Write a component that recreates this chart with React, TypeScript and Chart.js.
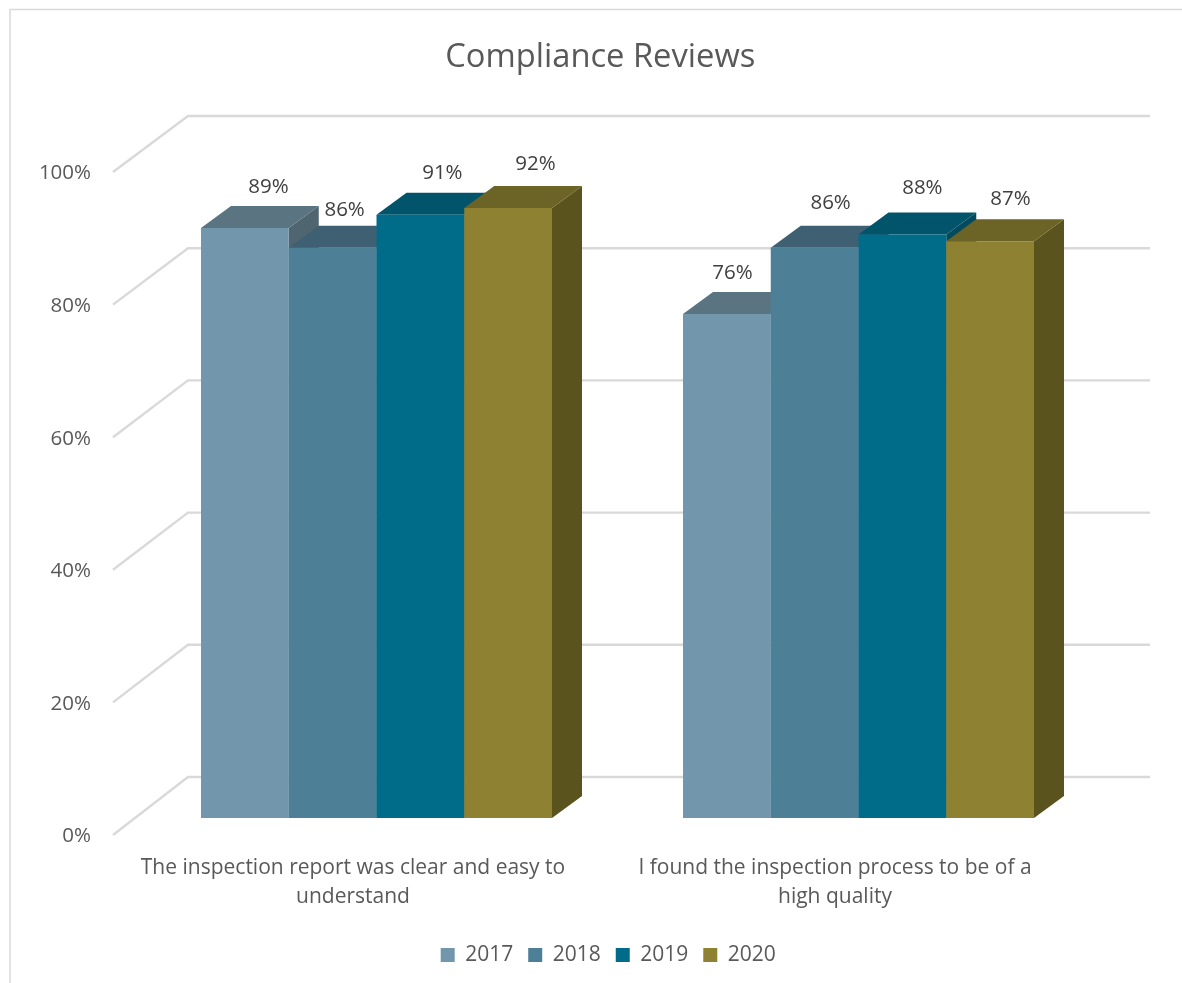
import React, { useEffect, useRef } from "react";
import { Chart, registerables } from "chart.js";

Chart.register(...registerables);

const chartTitle = "Compliance Reviews";
const categories = [
  ["The inspection report was clear and easy to", "understand"],
  ["I found the inspection process to be of a", "high quality"],
];
const yearLabels = ["2017", "2018", "2019", "2020"];
const values2017 = [89, 76];
const values2018 = [86, 86];
const values2019 = [91, 88];
const values2020 = [92, 87];
const seriesValues = [values2017, values2018, values2019, values2020];

const frontColors = ["#7296AC", "#4D7F96", "#006C89", "#8E8232"];
const topColors = ["#5A7482", "#3F6072", "#02546A", "#6C6326"];
const sideColors = ["#4F6670", "#365462", "#024A5E", "#5B531E"];

const FONT = '"Open Sans", sans-serif';
const GRID = "#D9D9D9";
const DEPTH_X = 30;
const DEPTH_Y = 22;
// Hand-placed data label nudges from bar top centre, per series then category.
const labelNudges = [
  [[23.6, -41], [5.6, -41]],
  [[12, -38], [16, -45]],
  [[22, -41.5], [20, -46]],
  [[27.4, -44], [20.4, -42]],
];

function quad(ctx: CanvasRenderingContext2D, pts: number[][], fill: string) {
  ctx.beginPath();
  ctx.moveTo(pts[0][0], pts[0][1]);
  for (let i = 1; i < pts.length; i++) ctx.lineTo(pts[i][0], pts[i][1]);
  ctx.closePath();
  ctx.fillStyle = fill;
  ctx.fill();
}

const box3dPlugin = {
  id: "box3d",
  beforeDraw(chart: any) {
    const ctx = chart.ctx;
    ctx.save();
    ctx.strokeStyle = GRID;
    ctx.lineWidth = 1.5;
    ctx.beginPath();
    ctx.moveTo(10, chart.height);
    ctx.lineTo(10, 9.5);
    ctx.lineTo(chart.width, 9.5);
    ctx.stroke();
    ctx.restore();
  },
  afterLayout(chart: any) {
    // Title and legend are centred on the picture, not on the plot area.
    chart.titleBlock.left += 33;
    chart.titleBlock.right += 33;
    chart.legend.left += 41;
    chart.legend.right += 41;
  },
  beforeDatasetsDraw(chart: any) {
    const ctx = chart.ctx as CanvasRenderingContext2D;
    const yScale = chart.scales.y;
    const bottom = yScale.bottom;
    ctx.save();
    // Floor-and-wall gridlines
    ctx.strokeStyle = GRID;
    ctx.lineWidth = 2.4;
    yScale.ticks.forEach((t: any) => {
      const y = yScale.getPixelForValue(t.value);
      const backY = y - 41 + (bottom - y) * 0.003;
      ctx.beginPath();
      ctx.moveTo(113, y + 17);
      ctx.lineTo(188, backY);
      ctx.lineTo(1150, backY);
      ctx.stroke();
    });
    // Bars, left to right, with the side and top faces behind each front
    seriesValues.forEach((_, si) => {
      const meta = chart.getDatasetMeta(si);
      meta.data.forEach((bar: any) => {
        const l = bar.x - bar.width / 2;
        const r = bar.x + bar.width / 2;
        quad(ctx, [[r, bar.y], [r + DEPTH_X, bar.y - DEPTH_Y], [r + DEPTH_X, bar.base - DEPTH_Y], [r, bar.base]], sideColors[si]);
        quad(ctx, [[l, bar.y], [l + DEPTH_X, bar.y - DEPTH_Y], [r + DEPTH_X, bar.y - DEPTH_Y], [r, bar.y]], topColors[si]);
        bar.draw(ctx);
      });
    });
    // Data labels
    ctx.font = `20.5px ${FONT}`;
    ctx.fillStyle = "#404040";
    ctx.textAlign = "center";
    ctx.textBaseline = "middle";
    seriesValues.forEach((vals, si) => {
      const meta = chart.getDatasetMeta(si);
      meta.data.forEach((bar: any, ci: number) => {
        const [dx, dy] = labelNudges[si][ci];
        ctx.fillText(`${vals[ci]}%`, bar.x + dx, bar.y + dy);
      });
    });
    ctx.restore();
    return false;
  },
};

export default function App() {
  const ref = useRef<HTMLCanvasElement>(null);
  useEffect(() => {
    if (!ref.current) return;
    const chart = new Chart(ref.current, {
      type: "bar",
      data: {
        labels: categories as any,
        datasets: yearLabels.map((label, i) => ({
          label,
          data: seriesValues[i],
          backgroundColor: frontColors[i],
          borderWidth: 0,
          categoryPercentage: 351 / 482,
          barPercentage: 1,
        })),
      },
      options: {
        responsive: false,
        animation: false,
        layout: { padding: { left: 35, right: 82.5, top: 0, bottom: 7.5 } },
        scales: {
          x: {
            grid: { display: false, drawTicks: false },
            border: { display: false },
            afterFit: (s: any) => { s.height = 111.5; },
            ticks: {
              color: "#595959",
              font: { family: FONT, size: 21, lineHeight: 1.38 },
              padding: 36,
              labelOffset: -23.5,
              maxRotation: 0,
              minRotation: 0,
              autoSkip: false,
            },
          },
          y: {
            min: 0,
            max: 100,
            grid: { display: false, drawTicks: false },
            border: { display: false },
            afterFit: (s: any) => { s.width = 100.5; },
            ticks: {
              stepSize: 20,
              color: "#595959",
              font: { family: FONT, size: 20.5 },
              padding: 44.5,
              labelOffset: 18.5,
              callback: (v: any) => `${v}%`,
            },
          },
        },
        plugins: {
          title: {
            display: true,
            text: chartTitle,
            color: "#595959",
            font: { family: FONT, size: 32.7, weight: "normal" },
            padding: { top: 38, bottom: 77.76 },
          },
          legend: {
            position: "bottom",
            labels: {
              color: "#595959",
              font: { family: FONT, size: 21 },
              boxWidth: 14,
              boxHeight: 14,
              padding: 15,
            },
          },
          tooltip: { enabled: false },
        },
      },
      plugins: [box3dPlugin],
    } as any);
    return () => chart.destroy();
  }, []);
  return (
    <div style={{ position: "absolute", left: 0, top: 0, width: 1182, height: 983, background: "#fff" }}>
      <canvas ref={ref} width={1182} height={983} style={{ display: "block" }} />
    </div>
  );
}
